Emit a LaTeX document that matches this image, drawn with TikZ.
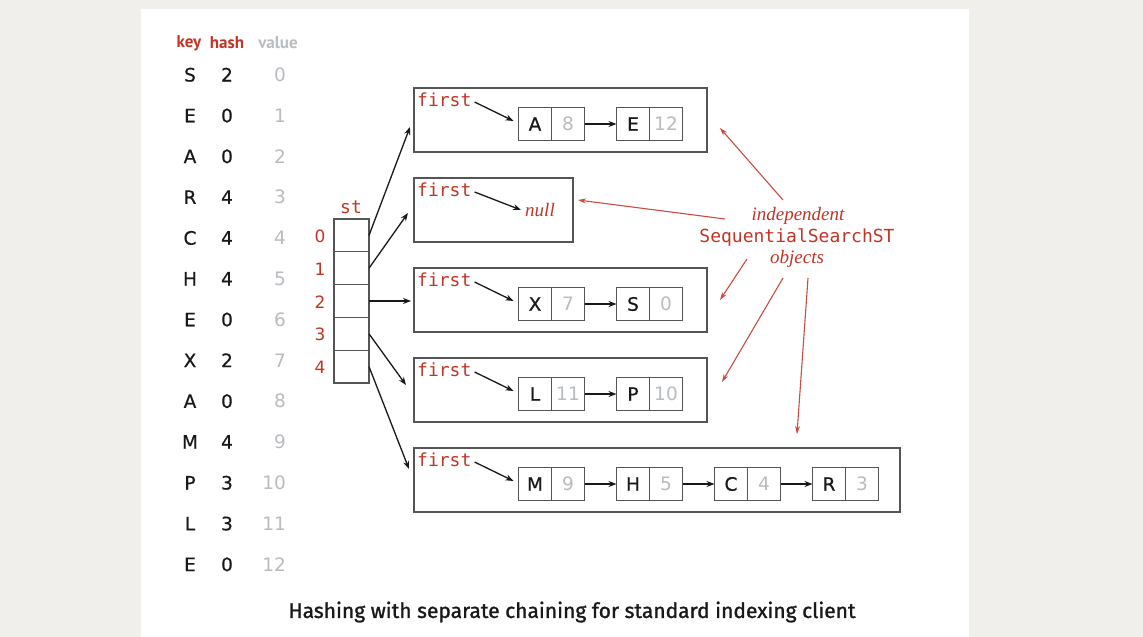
\documentclass[tikz,border=0pt]{standalone}
\usepackage{fontspec}
\usetikzlibrary{arrows.meta,positioning}
\newfontfamily\keyf[FakeBold=0.6]{DejaVu Sans}
\newfontfamily\valf{DejaVu Sans}
\newfontfamily\ttf{DejaVu Sans Mono}
\newfontfamily\itf{Liberation Serif}
\newfontfamily\hdrf{PT Sans}
\newfontfamily\capf[FakeBold=1.2]{Fira Sans}
\definecolor{bookred}{RGB}{196,52,38}
\definecolor{annred}{RGB}{205,75,65}
\definecolor{valgray}{RGB}{185,188,192}
\definecolor{bggray}{RGB}{240,239,236}
\definecolor{boxline}{RGB}{85,85,85}
\definecolor{inkblack}{RGB}{25,25,25}
\tikzset{
  keytxt/.style={font=\keyf\fontsize{18.5}{20}\selectfont, text=inkblack, inner sep=0pt, text height=13pt, text depth=0pt},
  valtxt/.style={font=\valf\fontsize{18.5}{20}\selectfont, text=valgray, inner sep=0pt, text height=13pt, text depth=0pt},
  idxtxt/.style={font=\valf\fontsize{17}{20}\selectfont, text=bookred, inner sep=0pt, text height=13pt, text depth=0pt},
  hdr/.style={font=\hdrf\bfseries\fontsize{17}{20}\selectfont, inner sep=0pt},
  tttxt/.style={font=\ttf\fontsize{18}{20}\selectfont, text=bookred, inner sep=1pt},
  ittxt/.style={font=\itf\itshape\fontsize{19}{22}\selectfont, text=bookred, inner sep=0pt},
  stcell/.style={draw=boxline, line width=1.3pt, minimum width=35pt, minimum height=32.8pt, inner sep=0pt, outer sep=0pt},
  stbox/.style={draw=boxline, line width=1.3pt, minimum height=64pt, inner sep=0pt, outer sep=0pt},
  kcell/.style={draw=boxline, line width=1.2pt, minimum width=33pt, minimum height=33pt, inner sep=0pt, outer sep=0pt, font=\keyf\fontsize{18.5}{20}\selectfont, text=inkblack},
  vcell/.style={kcell, font=\valf\fontsize{18.5}{20}\selectfont, text=valgray},
  ptr/.style={draw=inkblack, line width=1.3pt, -{Stealth[length=8pt,width=6pt]}},
  redptr/.style={draw=annred, line width=1.1pt, -{Stealth[length=8pt,width=5pt]}},
}
\begin{document}
\begin{tikzpicture}[x=1pt,y=-1pt]
\fill[bggray] (0,0) rectangle (1143,637);
\fill[white] (141,9) rectangle (969,637);
\useasboundingbox (0,0) rectangle (1143,637);

% header
\node[hdr, text=bookred] (hk) at (189,43) {key};
\node[hdr, text=bookred] (hh) at (227,43) {hash};
\node[hdr, text=valgray] (hv) at (278,43) {value};

% key / hash / value table
\foreach \k/\h/\v [count=\i from 0] in {S/2/0,E/0/1,A/0/2,R/4/3,C/4/4,H/4/5,E/0/6,X/2/7,A/0/8,M/4/9,P/3/10,L/3/11,E/0/12} {
  \node[keytxt] (k\i) at ({190},{75+40.8*\i}) {\k};
  \node[keytxt] (h\i) at ({227},{75+40.8*\i}) {\h};
  \node[valtxt, anchor=east] (v\i) at ({286},{75+40.8*\i}) {\v};
}

% st array
\node[tttxt] (stl) at (351,207) {st};
\foreach \i in {0,...,4} {
  \node[stcell] (c\i) at ({351.5},{235.4+32.8*\i}) {};
  \node[idxtxt] (ix\i) at ({320},{236+32.8*\i}) {\i};
}

% SequentialSearchST boxes
\node[stbox, minimum width=293pt] (b0) at (560.5,120) {};
\node[stbox, minimum width=159pt] (b1) at (493.5,210) {};
\node[stbox, minimum width=293pt] (b2) at (560.5,300) {};
\node[stbox, minimum width=293pt] (b3) at (560.5,390) {};
\node[stbox, minimum width=486pt] (b4) at (657,480) {};

% first labels
\foreach \i in {0,...,4} {
  \node[tttxt, anchor=west] (f\i) at ({416},{100+90*\i}) {first};
}

% chain nodes
\node[kcell] (n0a) at (535,124) {A};  \node[vcell, right=0pt of n0a] (n0av) {8};
\node[kcell] (n0b) at (633,124) {E};  \node[vcell, right=0pt of n0b] (n0bv) {12};

\node[ittxt] (nl) at (540,210) {null};

\node[kcell] (n2a) at (535,304) {X};  \node[vcell, right=0pt of n2a] (n2av) {7};
\node[kcell] (n2b) at (633,304) {S};  \node[vcell, right=0pt of n2b] (n2bv) {0};

\node[kcell] (n3a) at (535,394) {L};  \node[vcell, right=0pt of n3a] (n3av) {11};
\node[kcell] (n3b) at (633,394) {P};  \node[vcell, right=0pt of n3b] (n3bv) {10};

\node[kcell] (n4a) at (535,484) {M};  \node[vcell, right=0pt of n4a] (n4av) {9};
\node[kcell] (n4b) at (633,484) {H};  \node[vcell, right=0pt of n4b] (n4bv) {5};
\node[kcell] (n4c) at (731,484) {C};  \node[vcell, right=0pt of n4c] (n4cv) {4};
\node[kcell] (n4d) at (829,484) {R};  \node[vcell, right=0pt of n4d] (n4dv) {3};

% first pointers
\draw[ptr] ([xshift=2pt,yshift=-2pt]f0.east) -- ([xshift=-5pt,yshift=3pt]n0a.west);
\draw[ptr] ([xshift=2pt,yshift=-2pt]f1.east) -- ([xshift=-4pt]nl.west);
\draw[ptr] ([xshift=2pt,yshift=-2pt]f2.east) -- ([xshift=-5pt,yshift=3pt]n2a.west);
\draw[ptr] ([xshift=2pt,yshift=-2pt]f3.east) -- ([xshift=-5pt,yshift=3pt]n3a.west);
\draw[ptr] ([xshift=2pt,yshift=-2pt]f4.east) -- ([xshift=-5pt,yshift=3pt]n4a.west);

% chain links
\draw[ptr] (n0av.east) -- (n0b.west);
\draw[ptr] (n2av.east) -- (n2b.west);
\draw[ptr] (n3av.east) -- (n3b.west);
\draw[ptr] (n4av.east) -- (n4b.west);
\draw[ptr] (n4bv.east) -- (n4c.west);
\draw[ptr] (n4cv.east) -- (n4d.west);

% st pointers
\coordinate (t0) at (410,127);
\coordinate (t1) at (408,213);
\coordinate (t2) at (411,301);
\coordinate (t3) at (406,385);
\coordinate (t4) at (409,469);
\foreach \i in {0,...,4} {
  \draw[ptr] (c\i.east) -- (t\i);
}

% annotation
\node[ittxt] (a1) at (798,216) {independent};
\node[tttxt] (a2) at (797,238) {SequentialSearchST};
\node[ittxt] (a3) at (797,259) {objects};

\coordinate (s0) at (783,200); \coordinate (e0) at (720,128);
\coordinate (s1) at (725,219); \coordinate (e1) at (578,200);
\coordinate (s2) at (747,259); \coordinate (e2) at (720,300);
\coordinate (s3) at (783,278); \coordinate (e3) at (722,382);
\coordinate (s4) at (808,278); \coordinate (e4) at (797,434);
\foreach \i in {0,...,4} {
  \draw[redptr] (s\i) -- (e\i);
}

% caption
\node[font=\capf\fontsize{21}{24}\selectfont, text=inkblack, inner sep=0pt] (cap) at (572,612) {Hashing with separate chaining for standard indexing client};
\end{tikzpicture}
\end{document}
